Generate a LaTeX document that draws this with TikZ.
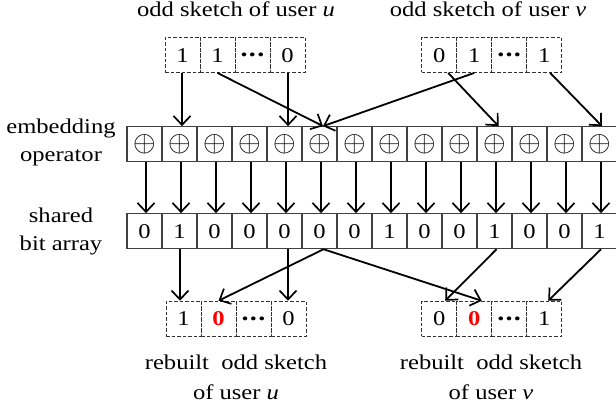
\RequirePackage{fix-cm}
\documentclass[tikz,border=0pt]{standalone}
\usepackage{fontspec}
\setmainfont{Liberation Serif}[FakeStretch=1.17]
\usetikzlibrary{arrows.meta}
\newcommand{\mydots}{\textbf{\fontsize{24}{24}\selectfont\raisebox{0.24em}{.\kern1.3pt.\kern1.3pt.}}}
\begin{document}
\begin{tikzpicture}[x=1pt,y=-1pt,
  cellbase/.style={minimum width=35pt,minimum height=35pt,inner sep=0pt,
    text height=14.2pt,text depth=0pt,font=\fontsize{21}{24}\selectfont},
  cell/.style={cellbase,draw=black!75,line width=1.1pt},
  opcell/.style={cell,text height=,text depth=,font=\fontsize{29}{30}\selectfont},
  dcell/.style={cellbase,draw=black!80,line width=0.9pt,dash pattern=on 3.5pt off 2pt},
  lbl/.style={font=\fontsize{21}{27.5}\selectfont,align=center,inner sep=0pt},
  lblb/.style={font=\fontsize{21}{30}\selectfont,align=center,inner sep=0pt},
  arr/.style={line width=1.8pt,-{Straight Barb[length=9pt,width=17pt,line width=1.7pt]}},
  red0/.style={text=red,font=\fontsize{21}{24}\selectfont\bfseries}]
\useasboundingbox (0,0) rectangle (616,411);
% labels
\node[lbl,anchor=base] (tu) at (236,17) {odd sketch of user \textit{u}};
\node[lbl,anchor=base] (tv) at (488,17) {odd sketch of user \textit{v}};
\node[lbl,anchor=north] (le) at (61,119) {embedding\\operator};
\node[lbl,anchor=north] (lb) at (61,208) {shared\\bit array};
\node[lblb,anchor=north] (ru) at (236,355) {rebuilt\ \ odd sketch\\of user \textit{u}};
\node[lblb,anchor=north] (rv) at (491,355) {rebuilt\ \ odd sketch\\of user \textit{v}};
% embedding operator row and bit array
\foreach \v [count=\i from 0] in {0,1,0,0,0,0,0,1,0,0,1,0,0,1}{
  \node[opcell] (e\i) at (144.5+35*\i,144.2) {$\oplus$};
  \node[cell] (b\i) at (144.5+35*\i,231.2) {\v};
  \draw[arr] ([xshift=1.5pt]e\i.south) -- ([xshift=1.5pt]b\i.north);
}
% top sketches
\node[dcell] (u0) at (182.5,55) {1};
\node[dcell] (u1) at (217.5,55) {1};
\node[dcell] (u2) at (252.5,55) {\mydots};
\node[dcell] (u3) at (287.5,55) {0};
\node[dcell] (v0) at (439.2,55) {0};
\node[dcell] (v1) at (474.2,55) {1};
\node[dcell] (v2) at (509.2,55) {\mydots};
\node[dcell] (v3) at (544.2,55) {1};
% bottom sketches
\node[dcell] (p0) at (183.5,318.7) {1};
\node[dcell,red0] (p1) at (218.5,318.7) {0};
\node[dcell] (p2) at (253.5,318.7) {\mydots};
\node[dcell] (p3) at (288.5,318.7) {0};
\node[dcell] (q0) at (439.2,318.7) {0};
\node[dcell,red0] (q1) at (474.2,318.7) {0};
\node[dcell] (q2) at (509.2,318.7) {\mydots};
\node[dcell] (q3) at (544.2,318.7) {1};
% arrows: sketches -> embedding
\coordinate (m5) at ([xshift=3.5pt]e5.north);
\draw[arr] ([xshift=-0.5pt]u0.south) -- ([xshift=-0.5pt]u0.south |- e1.north);
\draw[arr] (u1.south) -- (m5);
\draw[arr] ([xshift=0.5pt]u3.south) -- ([xshift=0.5pt]u3.south |- e4.north);
\draw[arr] (v1.south) -- (m5);
\draw[arr] ([xshift=9pt]v0.south) -- ([xshift=4pt]e10.north);
\draw[arr] ([xshift=6pt]v3.south) -- ([xshift=2.5pt]e13.north);
% arrows: bit array -> rebuilt sketches
\coordinate (n5) at ([xshift=4pt]b5.south);
\draw[arr] ([xshift=0.5pt]b1.south) -- ([xshift=0.5pt]b1.south |- p0.north);
\draw[arr] ([xshift=3.5pt]b4.south) -- ([xshift=3.5pt]b4.south |- p3.north);
\draw[arr] (n5) -- (p1.north);
\draw[arr] (n5) -- ([xshift=7.5pt]q1.north);
\draw[arr] ([xshift=2pt]b10.south) -- ([xshift=6pt]q0.north);
\draw[arr] ([xshift=1.5pt]b13.south) -- ([xshift=4pt]q3.north);
\end{tikzpicture}
\end{document}
